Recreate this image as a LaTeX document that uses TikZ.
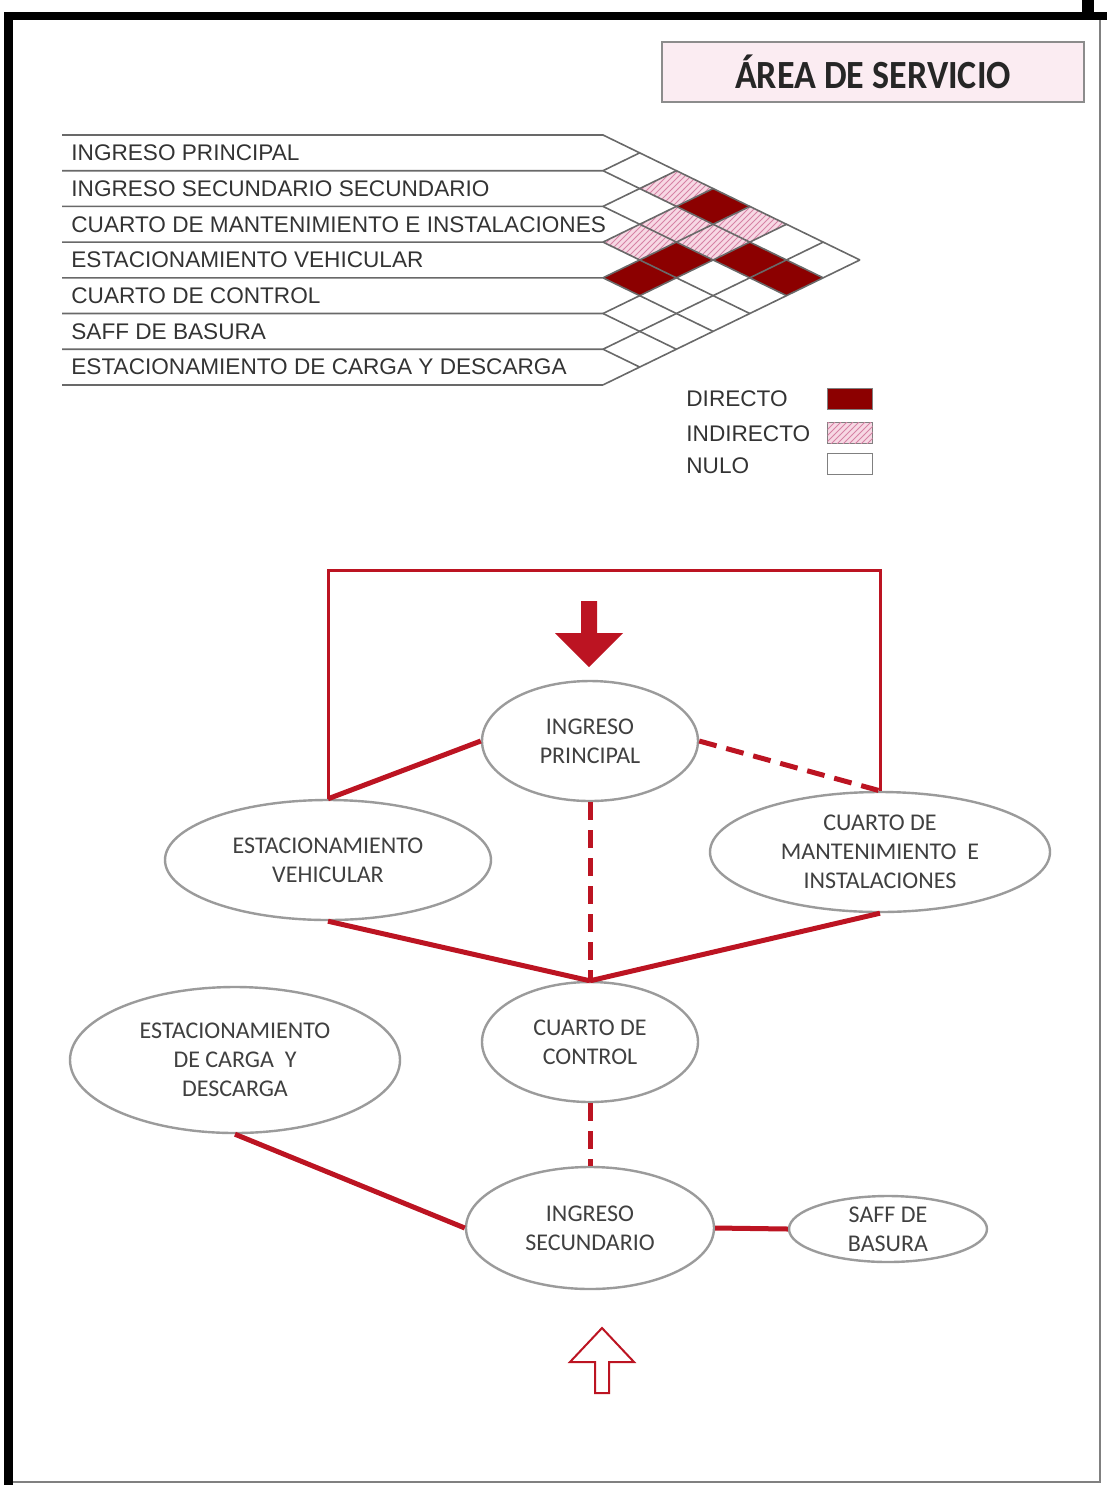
\documentclass[tikz,border=0pt]{standalone}
\usepackage{fontspec}
\setmainfont{Liberation Sans}
\newfontfamily\calibri{Carlito}
\newfontfamily\calibrititulo{Carlito}[FakeStretch=0.9]
\usetikzlibrary{shapes.geometric,patterns}
\definecolor{rojo}{RGB}{188,20,34}
\definecolor{vino}{RGB}{140,0,0}
\definecolor{rosa}{RGB}{247,216,228}
\definecolor{rosaosc}{RGB}{214,130,165}
\definecolor{rejilla}{RGB}{105,105,105}
\definecolor{titulofondo}{RGB}{251,236,242}

\begin{document}
\begin{tikzpicture}[x=0.5pt,y=-0.5pt,
    rowlbl/.style={anchor=west, inner sep=0pt, text=black!80, font=\fontsize{11.3}{13}\selectfont},
    directo/.style={fill=vino},
    indirecto/.style={fill=rosa, postaction={pattern=north east lines, pattern color=rosaosc}},
    legbox/.style={draw=gray, minimum width=22.5pt, minimum height=10.5pt, inner sep=0pt},
    zona/.style={ellipse, draw={rgb,255:red,155;green,155;blue,155}, line width=1.2pt, fill=white,
      inner sep=0pt, align=center, text=black!75, font=\calibri\fontsize{12}{14.5}\selectfont},
    directa/.style={draw=rojo, line width=2.5pt},
    indirecta/.style={draw=rojo, line width=2.5pt, dash pattern=on 9pt off 5pt}]
  \useasboundingbox (0,0) rectangle (1107,1485);
  % marco
  \fill[black] (4,12) rectangle (1107,20);
  \fill[black] (4,12) rectangle (13,1485);
  \fill[black] (1082,0) rectangle (1094,12);
  \draw[gray, line width=0.8pt] (1100,20) -- (1100,1482) -- (13,1482);

  % titulo
  \node[draw=black!45, line width=0.8pt, fill=titulofondo, minimum width=211pt, minimum height=30pt,
    font=\calibrititulo\bfseries\fontsize{20}{22}\selectfont, text=black!85] (titulo) at (873,72) {ÁREA DE SERVICIO};

  % matriz de relaciones
  \def\xo{603} \def\dd{36.7} \def\hh{35.7} \def\bo{135}
  \foreach \i/\j in {0/3,2/4,3/4,1/5,1/6}
    \fill[directo] ({\xo+(\j-\i)*\dd},{\bo+\hh*((\i+\j)/2+0.5)}) ++(-\dd,0) -- ++(\dd,-\hh/2) -- ++(\dd,\hh/2) -- ++(-\dd,\hh/2) -- cycle;
  \foreach \i/\j in {0/2,1/3,2/3,0/4,1/4}
    \fill[indirecto] ({\xo+(\j-\i)*\dd},{\bo+\hh*((\i+\j)/2+0.5)}) ++(-\dd,0) -- ++(\dd,-\hh/2) -- ++(\dd,\hh/2) -- ++(-\dd,\hh/2) -- cycle;
  \foreach \k in {0,...,7} {
    \draw[rejilla, line width=0.8pt] (62,{\bo+\k*\hh}) -- ({\xo},{\bo+\k*\hh}) -- ++({(7-\k)*\dd},{(7-\k)*\hh/2});
    \draw[rejilla, line width=0.8pt] ({\xo},{\bo+\k*\hh}) -- ++({\k*\dd},{-\k*\hh/2});
  }
  \foreach \t [count=\n from 0] in {INGRESO PRINCIPAL, INGRESO SECUNDARIO SECUNDARIO,
      CUARTO DE MANTENIMIENTO E INSTALACIONES, ESTACIONAMIENTO VEHICULAR, CUARTO DE CONTROL,
      SAFF DE BASURA, ESTACIONAMIENTO DE CARGA Y DESCARGA}
    \node[rowlbl] (row\n) at (71,{\bo+(\n+0.5)*\hh}) {\t};

  % leyenda
  \node[rowlbl] (legdir) at (686,399) {DIRECTO};
  \node[rowlbl] (legind) at (686,434) {INDIRECTO};
  \node[rowlbl] (legnul) at (686,466) {NULO};
  \node[legbox, directo] (boxdir) at (850,399) {};
  \node[legbox, indirecto] (boxind) at (850,433) {};
  \node[legbox] (boxnul) at (850,464) {};

  % diagrama
  \node[zona, minimum width=108pt, minimum height=60pt] (ip) at (590,741) {INGRESO\\PRINCIPAL};
  \node[zona, minimum width=163pt, minimum height=60pt] (ev) at (328,860) {ESTACIONAMIENTO\\VEHICULAR};
  \node[zona, minimum width=170pt, minimum height=60pt] (cm) at (880,852) {CUARTO DE\\MANTENIMIENTO\ \ E\\INSTALACIONES};
  \node[zona, minimum width=108pt, minimum height=60pt] (cc) at (590,1042) {CUARTO DE\\CONTROL};
  \node[zona, minimum width=165pt, minimum height=73pt] (ec) at (235,1060) {ESTACIONAMIENTO\\DE CARGA\ \ Y\\DESCARGA};
  \node[zona, minimum width=124pt, minimum height=61pt] (is) at (590,1228) {INGRESO\\SECUNDARIO};
  \node[zona, minimum width=99pt, minimum height=33pt] (sb) at (888,1229) {SAFF DE\\BASURA};
  \coordinate (arriba) at (590,570);

  \draw[rojo, line width=1.5pt] (ev.north) |- (arriba) -| (cm.north);
  \draw[directa] (ip.west) -- (ev.north);
  \draw[indirecta] (ip.east) -- (cm.north);
  \draw[indirecta] (ip.south) -- (cc.north);
  \draw[directa] (ev.south) -- (cc.north);
  \draw[directa] (cm.south) -- (cc.north);
  \draw[indirecta] (cc.south) -- (is.north);
  \draw[directa] (ec.south) -- (is.west);
  \draw[directa] (is.east) -- (sb.west);

  % flechas de ingreso
  \fill[rojo] (581,601) -- (597,601) -- (597,633) -- (623,633) -- (589,667) -- (555,633) -- (581,633) -- cycle;
  \draw[rojo, line width=1pt, fill=white] (602,1328) -- (634,1362) -- (609,1362) -- (609,1393) -- (595,1393) -- (595,1362) -- (570,1362) -- cycle;
\end{tikzpicture}
\end{document}
